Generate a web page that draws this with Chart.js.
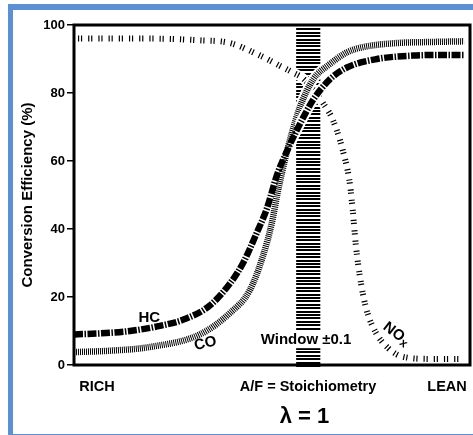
<!DOCTYPE html>
<html>
<head>
<meta charset="utf-8">
<script src="https://cdn.jsdelivr.net/npm/chart.js@4/dist/chart.umd.min.js"></script>
<style>
  html, body { margin: 0; padding: 0; background: #fff; }
  body { width: 473px; height: 435px; position: relative; overflow: hidden; }
  #frame { position: absolute; left: 8px; top: 4px; width: 480px; height: 424px;
           border-top: 6px solid #5b8fd6; border-left: 5px solid #5b8fd6; border-bottom: 1px solid #5b8fd6; }
  #wrap { position: absolute; left: 0; top: 0; width: 473px; height: 435px; }
</style>
</head>
<body>
<div id="frame"></div>
<div id="wrap"><canvas id="c" width="473" height="435"></canvas></div>
<script>
// ---- data (x: position along A/F axis, 0 = rich end, 100 = lean end; y: conversion %) ----
const hcX  = [0, 6.6, 14.1, 21.7, 28, 34.3, 39.4, 42.7, 46.2, 48.7, 51.3, 53.8, 57.1, 60.4, 64.6, 68.9, 76.5, 85.6, 92.4, 98.5];
const hcY  = [9, 9.3, 10, 11.5, 13.5, 17.5, 24, 30, 39, 46, 56, 63, 71, 78, 84, 87.5, 90, 91, 91.2, 91.2];
const coX  = [0, 9.1, 19.2, 31.8, 39.4, 44.4, 47.7, 50, 51.3, 52.8, 54.5, 57.1, 60.4, 64.6, 69, 73, 81.6, 89.9, 98.5];
const coY  = [3.8, 4.2, 5.3, 9, 15.3, 22, 32, 42, 50, 58, 66, 76, 84, 88.5, 92, 93.5, 94.7, 95, 95.2];
const noxX = [1, 6.6, 19.2, 31.8, 39.4, 47, 52, 55.3, 57.6, 60.4, 62.9, 65.4, 67.9, 69.7, 70.5, 71.2, 72.2, 73.7, 76, 79.3, 82.8, 89.9, 98.5];
const noxY = [96, 96, 96, 95.5, 94.7, 91, 88, 86, 84.5, 81, 77, 72, 63, 53, 44, 35, 26, 17, 10, 5, 2.5, 1.8, 1.8];

const yTicks = [0, 20, 40, 60, 80, 100];
const xTickValues = [5.8, 59.1, 94.2];
const xTickLabels = ['RICH', 'A/F = Stoichiometry', 'LEAN'];
const windowRange = [56.1, 62.2];   // ±0.1 window band
const windowTop = 99;
const curveLabels = [
  { text: 'HC', x: 19, y: 14, rot: 0 },
  { text: 'CO', x: 33.2, y: 6.3, rot: -14 },
  { text: 'NOx', x: 81.5, y: 9, rot: 38 }
];
const windowLabel = { text: 'Window \u00B10.1', x: 58.6, y: 7.6 };
const lambdaLabel = { text: '\u03BB = 1', x: 58.2 };

const toPts = (xs, ys) => xs.map((x, i) => ({ x: x, y: ys[i] }));
const FONT = '"Liberation Sans", Arial, sans-serif';

const windowPlugin = {
  id: 'windowBand',
  beforeDatasetsDraw(chart) {
    const { ctx, scales: { x, y } } = chart;
    const x0 = x.getPixelForValue(windowRange[0]);
    const x1 = x.getPixelForValue(windowRange[1]);
    const yt = y.getPixelForValue(windowTop);
    const yb = y.getPixelForValue(0);
    ctx.save();
    ctx.fillStyle = '#000';
    for (let yy = yt; yy < yb; yy += 3.4) {
      ctx.fillRect(x0, Math.round(yy), x1 - x0, 2);
    }
    ctx.restore();
  },
  beforeDatasetDraw(chart, args) {
    // white halo where the curves cross the striped window
    const { ctx, scales: { x } } = chart;
    const meta = chart.getDatasetMeta(args.index);
    const line = meta.dataset;
    if (!line || !line.path) return;
    const x0 = x.getPixelForValue(windowRange[0]);
    const x1 = x.getPixelForValue(windowRange[1]);
    ctx.save();
    ctx.beginPath();
    ctx.rect(x0 - 1, chart.chartArea.top, x1 - x0 + 2, chart.chartArea.bottom - chart.chartArea.top);
    ctx.clip();
    ctx.beginPath();
    line.path(ctx);
    ctx.strokeStyle = '#fff';
    ctx.lineWidth = (line.options.borderWidth || 6) + 4;
    ctx.setLineDash([]);
    ctx.stroke();
    ctx.restore();
  },
  afterDatasetsDraw(chart) {
    const { ctx, scales: { x, y } } = chart;
    ctx.save();
    ctx.fillStyle = '#000';
    ctx.textAlign = 'center';
    ctx.textBaseline = 'middle';
    curveLabels.forEach(l => {
      const px = x.getPixelForValue(l.x), py = y.getPixelForValue(l.y);
      ctx.save();
      ctx.translate(px, py);
      ctx.rotate(l.rot * Math.PI / 180);
      if (l.text === 'NOx') {
        ctx.font = 'bold 15px ' + FONT;
        ctx.textAlign = 'left';
        const w = ctx.measureText('NO').width;
        ctx.fillText('NO', -15, 0);
        ctx.font = 'bold 12px ' + FONT;
        ctx.fillText('x', -15 + w, 3);
      } else {
        ctx.font = 'bold 15px ' + FONT;
        ctx.fillText(l.text, 0, 0);
      }
      ctx.restore();
    });
    // window label with white backing
    ctx.font = 'bold 15px ' + FONT;
    const wx = x.getPixelForValue(windowLabel.x), wy = y.getPixelForValue(windowLabel.y);
    const tw = ctx.measureText(windowLabel.text).width;
    ctx.fillStyle = '#fff';
    ctx.fillRect(wx - tw / 2 - 2, wy - 9, tw + 4, 18);
    ctx.fillStyle = '#000';
    ctx.fillText(windowLabel.text, wx, wy + 1);
    ctx.restore();
  },
  afterDraw(chart) {
    const { ctx, chartArea: a, scales: { x } } = chart;
    ctx.save();
    ctx.strokeStyle = '#000';
    ctx.lineWidth = 3;
    ctx.strokeRect(a.left, a.top, a.right - a.left, a.bottom - a.top);
    // lambda label under the axis
    ctx.fillStyle = '#000';
    ctx.textAlign = 'center';
    ctx.textBaseline = 'middle';
    ctx.font = 'bold 22px ' + FONT;
    ctx.fillText(lambdaLabel.text, x.getPixelForValue(lambdaLabel.x), a.bottom + 52);
    ctx.restore();
  }
};

Chart.defaults.color = '#000';
Chart.defaults.font.family = FONT;

new Chart(document.getElementById('c'), {
  type: 'line',
  data: {
    datasets: [
      { label: 'HC', data: toPts(hcX, hcY), borderColor: '#000', borderWidth: 6.5,
        borderDash: [9, 1.5, 1.5, 1.5], borderCapStyle: 'butt', pointRadius: 0,
        cubicInterpolationMode: 'monotone' },
      { label: 'CO', data: toPts(coX, coY), borderColor: '#000', borderWidth: 6.5,
        borderDash: [1, 1], borderCapStyle: 'butt', pointRadius: 0,
        cubicInterpolationMode: 'monotone' },
      { label: 'NOx', data: toPts(noxX, noxY), borderColor: '#000', borderWidth: 6,
        borderDash: [1.2, 1.8, 1.2, 6], borderCapStyle: 'butt', pointRadius: 0,
        cubicInterpolationMode: 'monotone' }
    ]
  },
  options: {
    responsive: false,
    animation: false,
    events: [],
    layout: { padding: { left: 0, right: 3, top: 25, bottom: 0 } },
    plugins: { legend: { display: false }, tooltip: { enabled: false } },
    scales: {
      x: {
        type: 'linear', min: 0, max: 100,
        grid: { display: false },
        border: { display: false },
        afterBuildTicks: s => { s.ticks = xTickValues.map(v => ({ value: v })); },
        afterFit: s => { s.height = 70; },
        ticks: {
          autoSkip: false, maxRotation: 0, padding: 5,
          font: { family: FONT, size: 14.5, weight: 'bold' },
          callback: (v, i) => xTickLabels[i]
        }
      },
      y: {
        type: 'linear', min: 0, max: 100,
        afterBuildTicks: s => { s.ticks = yTicks.map(v => ({ value: v })); },
        afterFit: s => { s.width = 74; },
        grid: { drawOnChartArea: false, drawTicks: true, tickLength: 7, color: '#000', lineWidth: 1.5 },
        border: { display: false },
        ticks: { padding: 2, font: { family: FONT, size: 13, weight: 'bold' } },
        title: { display: true, text: 'Conversion Efficiency (%)', padding: { top: 19, bottom: 0 },
                 font: { family: FONT, size: 15, weight: 'bold' } }
      }
    }
  },
  plugins: [windowPlugin]
});
</script>
</body>
</html>
